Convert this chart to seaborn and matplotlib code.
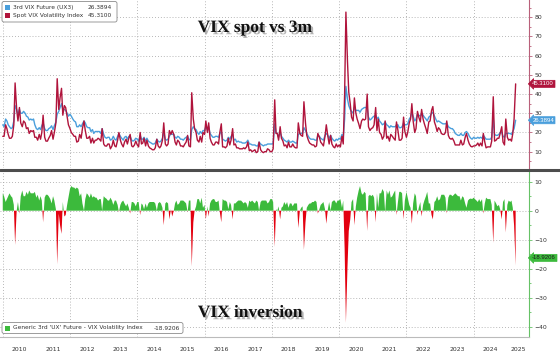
import pandas as pd
import seaborn as sns
import matplotlib.pyplot as plt
import matplotlib.transforms as mtrans
import matplotlib.patheffects as pe
from matplotlib.lines import Line2D
from matplotlib.patches import FancyBboxPatch, Rectangle

# semi-monthly readings (1st and 15th of each month), Jan 2010 .. Apr 2025
vix = [
    18, 18, 24, 22, 19, 17, 17, 18, 24, 45.8, 32, 26, 33, 25, 23, 26, 25, 22, 22.5, 19.5, 21, 20.5, 21, 17.5,      # 2010
    17.5, 16, 19, 16.5, 20, 29, 17.5, 15.5, 15.5, 17, 18.5, 21, 16.5, 20, 25, 48, 32, 38, 43, 29, 34, 33, 28, 24,  # 2011
    22, 20, 19, 18, 18, 15, 15.5, 19, 17, 22, 26, 21, 17, 17, 18, 14.5, 17, 14.5, 16, 16, 17, 16.5, 15.5, 22,      # 2012
    14, 13, 12.9, 14, 14, 11.5, 13, 16, 13, 12.5, 16, 20, 16, 14, 12.5, 15, 16.5, 14, 17, 19, 13, 12.5, 13.5, 15.5,  # 2013
    13.5, 12.5, 20, 14, 14.5, 17, 13, 16, 13, 12, 11.5, 11, 11, 12, 16.5, 13, 12, 13, 16, 25, 14, 13, 14, 21,      # 2014
    19, 21, 19, 15, 13.5, 16, 15, 13, 13, 12.5, 14, 15, 18.5, 13, 12.5, 40.7, 27, 22, 20, 16, 15, 18, 15, 20,      # 2015
    19, 26, 20, 25, 17, 15, 13.5, 13.5, 15, 15, 14, 20, 24.5, 12.5, 12.5, 12, 13, 17, 13.5, 16, 22, 13.5, 14, 12,  # 2016
    12, 11.5, 11.5, 11.5, 12, 11.5, 12.5, 15, 10.5, 11, 10, 10.5, 11, 9.5, 10, 15, 11, 10, 9.5, 10, 10, 11.5, 11, 10,  # 2017
    10, 11.5, 37, 19.5, 19.5, 16, 23, 17, 15.5, 13, 13.5, 12, 15, 12.5, 12.5, 14, 12.5, 12, 12, 25, 19.5, 18.5, 18, 36,  # 2018
    25, 18.5, 16, 14.5, 14, 13.5, 13.5, 12.5, 13, 19.5, 17.5, 15, 14, 13, 18, 24, 18, 14, 18.5, 14, 12.5, 12, 14, 12.5,  # 2019
    13.5, 12.5, 18, 14, 40, 82.7, 57, 41, 35, 28, 26, 38, 30, 27, 24.5, 22, 26, 27, 26.5, 27, 40, 23, 21, 22,      # 2020
    22.5, 24, 33, 21, 27, 20, 19, 16.5, 18, 26, 17, 18, 15.5, 19, 18, 17, 16, 25.5, 21, 16, 16, 17, 28, 20.5,      # 2021
    17.5, 20, 25, 27, 35, 26, 20, 22, 31, 28, 25.5, 32, 27, 24.5, 22, 19.5, 25.5, 26, 31.5, 33.5, 25.5, 23.5, 20.5, 22.5,  # 2022
    21.5, 19.5, 19, 19, 20, 26, 18.5, 17, 16.5, 17, 15.5, 13.5, 13.5, 13.5, 13.5, 16, 13.5, 14, 17.5, 19.5, 16, 14, 12.8, 12.5,  # 2023
    13, 13, 13.5, 14.5, 13, 14.5, 13, 19.5, 15, 12, 12.5, 12.5, 12.5, 15.5, 38.6, 15.5, 16, 17, 17, 19.5, 23, 15, 13.5, 27,  # 2024
    17.5, 16, 16.5, 15.5, 19.5, 27, 45.31,                                                                           # 2025
]
ux3 = [
    24, 23, 27, 26, 24, 23, 22, 22.5, 26, 34, 32, 29, 32, 30, 30, 31, 30, 28.5, 28, 26.5, 27, 26.5, 27, 24,
    22, 21.5, 22.5, 21.5, 23.5, 25, 22, 21, 21, 22, 22.5, 23.5, 21.5, 23.5, 25.5, 29.5, 31, 33, 35, 32, 32, 31.5, 30, 28.5,
    29.5, 28.5, 27, 26, 25.5, 23, 23, 24, 23, 24.5, 26, 25, 23, 22.5, 22.5, 20.5, 21.5, 19.5, 20.5, 20.5, 20.5, 20.5, 19.5, 22,
    19, 17.5, 17, 17.5, 17.5, 16, 16.5, 18, 16.5, 16, 18, 19.5, 18, 17, 16, 17.5, 18, 16.5, 18, 18, 16, 15.5, 16, 17,
    16.5, 15.5, 18.5, 16.5, 16.5, 17.5, 15.5, 17, 15.5, 15, 14.5, 14, 14, 14.5, 16.5, 15.5, 15, 15.5, 17, 20, 16.5, 16, 16.5, 18,
    19.5, 19, 19, 17.5, 17, 18, 17.5, 16.5, 16.5, 16, 17, 17.5, 18, 16.5, 16, 21.5, 23, 22, 21.5, 20, 19, 20.5, 19.5, 21,
    21, 23, 21.5, 23, 19.5, 18.5, 17.5, 17.5, 18, 18, 17.5, 19.5, 20.5, 16.5, 16, 15.5, 16, 17.5, 16.5, 18, 19, 16, 16.5, 15,
    15.5, 15, 15, 14.5, 14.5, 14.5, 15, 16, 14, 14, 13.5, 13.5, 13.5, 13, 13, 15, 14, 13.5, 13, 13.5, 13.5, 14, 14, 14,
    14, 14.5, 24.5, 20, 19.5, 17.5, 20, 18, 17, 16, 15.5, 15, 16, 15, 15, 15.5, 15, 14.5, 14.5, 19, 19.5, 19.5, 19.5, 22.5,
    21, 19.5, 18, 17, 16.5, 16.5, 16.5, 16, 16, 18.5, 18, 17, 16.5, 16, 18.5, 19.5, 18.5, 17, 18.5, 17, 16, 15.5, 16.5, 16,
    17, 16.5, 19, 17.5, 27, 44, 37.5, 34, 32, 31, 30, 33, 31.5, 31.5, 31.5, 30.5, 32, 32.5, 33, 33, 33, 28, 26.5, 27,
    28, 28.5, 29, 27, 28, 26, 25, 24, 24.5, 25.5, 24, 23.5, 22.5, 23.5, 23, 23, 23, 24, 24, 22.5, 22.5, 23, 25, 24,
    24, 24.5, 27, 28, 30.5, 28.5, 26, 27, 29.5, 29, 28.5, 30, 29, 28, 27, 26, 28, 28.5, 30, 30.5, 28.5, 27, 25.5, 26,
    25.5, 25, 24.5, 24.5, 24.5, 25, 23, 22.5, 22, 22, 21, 19.5, 19, 18.5, 18.5, 19.5, 18.5, 18.5, 20, 20.5, 19.5, 18, 17, 16.5,
    17.5, 17, 17, 17.5, 17, 17.5, 17, 18.5, 17.5, 16.5, 16.5, 16.5, 16.5, 17.5, 27.5, 19, 18.5, 18.5, 19, 20, 20, 18, 17.5, 19.5,
    19.5, 19.5, 19.5, 19, 20.5, 22, 26.3894,
]
years = list(range(2010, 2026))
spot_label = "Spot VIX Volatility Index"
fut_label = "3rd VIX Future (UX3)"
spread_label = "Generic 3rd 'UX' Future - VIX Volatility Index"

dates = pd.date_range("2010-01-01", periods=len(vix), freq="SMS")
df = pd.DataFrame({"date": dates, "vix": vix, "ux3": ux3})
df["spread"] = df["ux3"] - df["vix"]

BLUE = "#4a9fdc"
RED = "#b0143c"
GREEN = "#3cba3c"
FILLRED = "#e3000f"

sns.set_style("white")
plt.rcParams["font.family"] = ["DejaVu Sans"]

W, H = 560, 354
fig = plt.figure(figsize=(5.6, 3.54), dpi=100)
px = mtrans.Affine2D().scale(0.01, -0.01).translate(0, 3.54) + fig.dpi_scale_trans

ax1 = fig.add_axes([0, 1 - 168 / H, 529 / W, 168 / H])
ax2 = fig.add_axes([0, 1 - 337 / H, 529 / W, 166 / H])

sns.lineplot(data=df, x="date", y="ux3", ax=ax1, color=BLUE, lw=1.0)
sns.lineplot(data=df, x="date", y="vix", ax=ax1, color=RED, lw=1.0)

ax2.fill_between(df["date"], 0, df["spread"], where=df["spread"] >= 0,
                 interpolate=True, color=GREEN, lw=0)
ax2.fill_between(df["date"], 0, df["spread"], where=df["spread"] < 0,
                 interpolate=True, color=FILLRED, lw=0)

x0, x1 = pd.Timestamp("2009-12-02"), pd.Timestamp("2025-08-24")
grid_kw = dict(color="#a0a0a0", ls=(0, (1, 2.5)), lw=0.6, zorder=0)
for ax, spine_col in [(ax1, "#b9607a"), (ax2, "#66c266")]:
    ax.set_xlim(x0, x1)
    ax.set_xlabel("")
    ax.set_ylabel("")
    for s in ["left", "top", "bottom"]:
        ax.spines[s].set_visible(False)
    ax.spines["right"].set_color(spine_col)
    ax.spines["right"].set_linewidth(0.8)
    ax.yaxis.tick_right()
    ax.tick_params(axis="y", which="both", color=spine_col, width=0.6,
                   labelsize=4.4, labelcolor="#333333", pad=1.5)
    ax.tick_params(axis="y", which="major", length=2.5)
    ax.tick_params(axis="y", which="minor", length=1.3)
    ax.grid(False)
    for yr in years[:-1:2]:
        ax.axvline(pd.Timestamp(f"{yr}-01-01"), **grid_kw)

ax1.set_ylim(1.5, 89)
ax1.set_yticks(range(10, 90, 10))
ax1.set_yticks(range(5, 90, 10), minor=True)
for v in range(10, 90, 10):
    ax1.axhline(v, **grid_kw)
ax1.tick_params(axis="x", bottom=False, labelbottom=False)

ax2.set_ylim(-43.6, 13.7)
ax2.set_yticks(range(-40, 20, 10))
ax2.set_yticks(range(-35, 15, 10), minor=True)
for v in range(-40, 20, 10):
    ax2.axhline(v, **grid_kw)
ax2.spines["bottom"].set_visible(True)
ax2.spines["bottom"].set_color("#bbbbbb")
ax2.spines["bottom"].set_linewidth(0.8)

# year separators (major) and centred year labels (minor)
starts = [pd.Timestamp(f"{y}-01-01") for y in years]
mids = [s + (pd.Timestamp(f"{y + 1}-01-01") - s) / 2 for s, y in zip(starts, years)]
mids[-1] = starts[-1] + (x1 - starts[-1]) / 2
ax2.set_xticks(starts, labels=[""] * len(starts))
ax2.set_xticks(mids, labels=[str(y) for y in years], minor=True)
ax2.tick_params(axis="x", which="major", length=12.5, width=0.6, color="#c0c0c0", direction="out")
ax2.tick_params(axis="x", which="minor", length=0, pad=7, labelsize=4.4, labelcolor="#333333")

# separator between panels
fig.add_artist(Line2D([0, W], [169.5, 169.5], transform=px, color="#4d4d4d", lw=2.2))

# last value tags
tag_kw = dict(fontsize=4.3, fontfamily="Liberation Sans", va="center", ha="left",
              clip_on=False, zorder=10)
ax1.text(1.006, 45.31, "45.3100", transform=ax1.get_yaxis_transform(), color="white",
         bbox=dict(boxstyle="larrow,pad=0.18", fc=RED, ec=RED, lw=0.5), **tag_kw)
ax1.text(1.006, 26.39, "26.3894", transform=ax1.get_yaxis_transform(), color="white",
         bbox=dict(boxstyle="larrow,pad=0.18", fc=BLUE, ec=BLUE, lw=0.5), **tag_kw)
ax2.text(1.006, -16.3, "-18.9206", transform=ax2.get_yaxis_transform(), color="#1a1a1a",
         bbox=dict(boxstyle="larrow,pad=0.18", fc=GREEN, ec=GREEN, lw=0.5), **tag_kw)

# titles with shadow
shadow = [pe.SimplePatchShadow(offset=(1.6, -1.6), shadow_rgbFace="#555555", alpha=0.45), pe.Normal()]
title_kw = dict(transform=px, ha="center", va="center", fontfamily="Liberation Serif",
                fontweight="bold", fontsize=12.5, color="#111111", path_effects=shadow)
fig.text(255, 28, "VIX spot vs 3m", **title_kw)
fig.text(250, 313, "VIX inversion", **title_kw)

# legends
leg_kw = dict(transform=px, fontsize=4.2, va="center", color="#333333")
fig.add_artist(FancyBboxPatch((2, 1.5), 115, 20.5, boxstyle="round,pad=0,rounding_size=2",
                              transform=px, fc="white", ec="#8c8c8c", lw=0.6, zorder=20))
fig.add_artist(Rectangle((5, 4.8), 5, 5, transform=px, fc=BLUE, ec="none", zorder=21))
fig.add_artist(Rectangle((5, 12.6), 5, 5, transform=px, fc=RED, ec="none", zorder=21))
fig.text(13, 7.5, fut_label, ha="left", zorder=22, **leg_kw)
fig.text(13, 15.2, spot_label, ha="left", zorder=22, **leg_kw)
fig.text(112, 7.5, "26.3894", ha="right", zorder=22, **leg_kw)
fig.text(112, 15.2, "45.3100", ha="right", zorder=22, **leg_kw)

fig.add_artist(FancyBboxPatch((2, 322.5), 181, 11, boxstyle="round,pad=0,rounding_size=2",
                              transform=px, fc="white", ec="#8c8c8c", lw=0.6, zorder=20))
fig.add_artist(Rectangle((5, 325.5), 5, 5, transform=px, fc=GREEN, ec="none", zorder=21))
fig.text(13, 328, spread_label, ha="left", zorder=22, **leg_kw)
fig.text(180, 328, "-18.9206", ha="right", zorder=22, **leg_kw)

fig.savefig("out.png", dpi=100)
